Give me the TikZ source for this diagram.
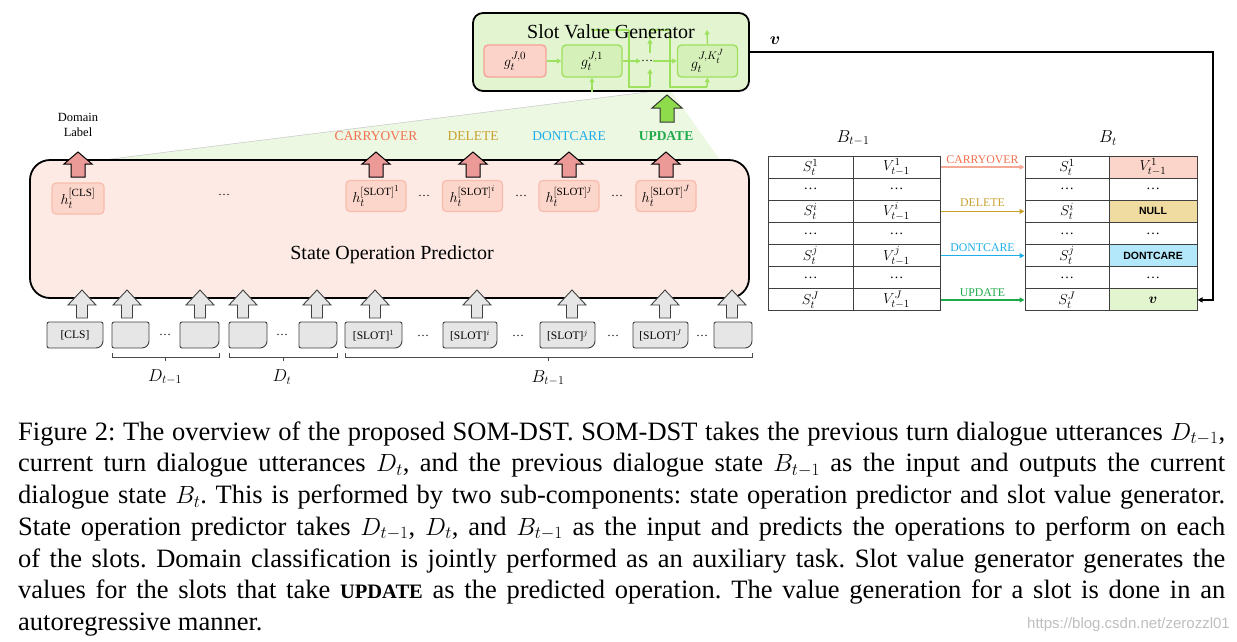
\documentclass[tikz,border=0pt]{standalone}
\usepackage{amsmath}
\usepackage{fontspec}
\setmainfont{Liberation Serif}
\newfontfamily\sansfam{Liberation Sans}
\usetikzlibrary{arrows.meta}
\DeclareMathSizes{13}{13}{10}{8}
\DeclareMathSizes{14}{14}{10.5}{8.5}
\DeclareMathSizes{15}{15}{11}{9}
\DeclareMathSizes{16}{16}{12}{9.5}
\definecolor{svgfill}{HTML}{E3F5D0}
\definecolor{gline}{HTML}{9DE15E}
\definecolor{gcell}{HTML}{D5F0B8}
\definecolor{trapfill}{HTML}{EDF8E2}
\definecolor{sopfill}{HTML}{FDEAE5}
\definecolor{hfill}{HTML}{FCD6CB}
\definecolor{hdraw}{HTML}{F8BCAD}
\definecolor{g0fill}{HTML}{FBD3C8}
\definecolor{g0draw}{HTML}{F6A296}
\definecolor{redarr}{HTML}{EC9A98}
\definecolor{grayin}{HTML}{E6E6E6}
\definecolor{greenarr}{HTML}{8EDB4C}
\definecolor{carry}{HTML}{F2704F}
\definecolor{carryarr}{HTML}{F5A995}
\definecolor{delete}{HTML}{C8A02F}
\definecolor{dontc}{HTML}{1DAEEA}
\definecolor{upd}{HTML}{1EAA4B}
\definecolor{nullfill}{HTML}{F0DCA0}
\definecolor{dontfill}{HTML}{B2E8FA}
\definecolor{vfill}{HTML}{E2F5CF}
\definecolor{cfill}{HTML}{FCD5CA}
\newcommand\blockup[7]{% style, x, tip, headbase, bottom, halfhead, halfshaft
  \draw[#1] (#2,#3) -- ({#2+#6},#4) -- ({#2+#7},#4) -- ({#2+#7},#5) -- ({#2-#7},#5) -- ({#2-#7},#4) -- ({#2-#6},#4) -- cycle;}
\newcommand\inbox[4]{% name, x1, x2, text
  \draw[inboxsty] (#2,348) [rounded corners=2pt] -- (#2,322) -- (#3,322) [rounded corners=7pt] -- (#3,348) [rounded corners=2pt] -- cycle;
  \node[intext] (#1) at ({(#2+#3)/2},335.5) {#4};}
\newcommand\brak[4]{% name, x1, x2, y
  \draw[brsty] (#2,{#4-4}) -- (#2,#4) -- (#3,#4) -- (#3,{#4-4});
  \coordinate (#1) at ({(#2+#3)/2},#4);
  \draw[brsty] (#1) -- ++(0,4);}
\begin{document}
\begin{tikzpicture}[x=1pt,y=-1pt,
  every node/.style={inner sep=0pt},
  svgbox/.style={draw=black, line width=1.8pt, fill=svgfill, rounded corners=10pt, minimum width=276pt, minimum height=78pt},
  gcellsty/.style={draw=gline, line width=1.4pt, fill=gcell, rounded corners=4pt, minimum width=60pt, minimum height=32pt, font=\fontsize{15}{17}\selectfont},
  g0sty/.style={draw=g0draw, line width=1.4pt, fill=g0fill, rounded corners=4pt, minimum width=62pt, minimum height=32pt, font=\fontsize{15}{17}\selectfont},
  glin/.style={draw=gline, line width=1.5pt},
  garr/.style={glin, -{Triangle[length=4.5pt,width=5pt]}},
  sopbox/.style={draw=black, line width=1.8pt, fill=sopfill, rounded corners=20pt, minimum width=719pt, minimum height=138pt},
  hsty/.style={draw=hdraw, line width=1.2pt, fill=hfill, rounded corners=4pt, minimum width=60pt, minimum height=31pt, font=\fontsize{15}{17}\selectfont},
  redsty/.style={draw=black, line width=1pt, fill=redarr},
  graysty/.style={draw=black!75, line width=0.9pt, fill=grayin},
  greensty/.style={draw=black!80, line width=1pt, fill=greenarr},
  inboxsty/.style={draw=black!75, line width=0.9pt, fill=grayin},
  intext/.style={font=\fontsize{11.5}{13}\selectfont},
  brsty/.style={draw=black!70, line width=0.8pt},
  oplab/.style={font=\fontsize{13.5}{15}\selectfont},
  dots/.style={font=\fontsize{12}{14}\selectfont},
  cell/.style={draw=black!75, line width=1pt, minimum height=22.14pt, font=\fontsize{14}{16}\selectfont},
  arrsm/.style={line width=1.6pt, -{Triangle[length=5pt,width=5pt]}},
  tlab/.style={font=\fontsize{11.8}{13}\selectfont},
  capf/.style={anchor=base west, font=\fontsize{26.5}{31.75}\selectfont\frenchspacing}]
\fill[white] (0,0) rectangle (1237,641);
\useasboundingbox (0,0) rectangle (1237,641);

% green projection
\fill[trapfill] (103,160) -- (655,91) -- (671,91) -- (720,160) -- cycle;
\draw[gray!45, line width=0.5pt] (103,160) -- (655,91);

% Slot Value Generator
\node[svgbox] (svg) at (611,52) {};
\node[g0sty] (g0) at (515,61) {$g_t^{J,0}$};
\node[gcellsty] (g1) at (592,61) {$g_t^{J,1}$};
\node[dots] (gd) at (647,61) {\dots};
\node[gcellsty] (gK) at (707.5,61) {$g_t^{J,K_t^J}$};
\draw[garr] (g0.east) -- (g1.west);
\draw[garr] (g1.east) -- (gd.west);
\draw[garr] (gd.east) -- (gK.west);
\draw[garr] (g1.south |- svg.south) -- (g1.south);
\draw[glin] (629,30) -- (629,87) -- (650,87);
\draw[garr] (650,87) -- (650,69);
\draw[garr] (650,53) -- (650,39);
\draw[glin] (650,39) -- (650,30) -- (670,30) -- (670,87) -- (707,87);
\draw[garr] (707,87) -- (gK.south);
\draw[garr] (gK.north) -- (707,30);
\draw[glin] (591,30) -- (629,30);
\node[font=\fontsize{20}{24}\selectfont] (svgt) at (611,32) {Slot Value Generator};

% green arrow
\blockup{greensty}{667}{95}{108}{122}{15}{7}

% State operation predictor
\node[sopbox] (sop) at (389.5,229) {};
\node[font=\fontsize{20}{24}\selectfont] (sopt) at (392,255) {State Operation Predictor};
\node[hsty, minimum width=52pt] (hcls) at (78,198.5) {$h_t^{[\mathrm{CLS}]}$};
\node[dots] (hd0) at (224,195) {\dots};
\node[hsty] (h1) at (376,196) {$h_t^{[\mathrm{SLOT}]^1}$};
\node[dots] (hd1) at (424,196) {\dots};
\node[hsty] (hi) at (472.5,196) {$h_t^{[\mathrm{SLOT}]^i}$};
\node[dots] (hd2) at (521,196) {\dots};
\node[hsty] (hj) at (569,196) {$h_t^{[\mathrm{SLOT}]^j}$};
\node[dots] (hd3) at (617,196) {\dots};
\node[hsty] (hJ) at (666,196) {$h_t^{[\mathrm{SLOT}]^J}$};

% red output arrows
\foreach \x in {78,376,473,569,666} {\blockup{redsty}{\x}{152}{164}{177}{14}{7}}
\node[align=center, font=\fontsize{12.5}{15}\selectfont] (dl) at (78,125) {Domain\\Label};
\node[oplab, text=carry] (lc) at (376,136) {CARRYOVER};
\node[oplab, text=delete] (ld) at (473,136) {DELETE};
\node[oplab, text=dontc] (ldc) at (569,136) {DONTCARE};
\node[oplab, text=upd, font=\fontsize{13.5}{15}\selectfont\bfseries] (lu) at (666,136) {UPDATE};

% inputs
\inbox{icls}{47}{103}{[CLS]}
\inbox{ia1}{112}{149}{}
\node[dots] (ida) at (165,335) {\dots};
\inbox{ia2}{180}{219}{}
\inbox{ib1}{229}{267}{}
\node[dots] (idb) at (282,335) {\dots};
\inbox{ib2}{299}{337}{}
\inbox{is1}{345}{402}{[SLOT]$^1$}
\node[dots] (idc) at (423,336) {\dots};
\inbox{isi}{443}{497}{[SLOT]$^i$}
\node[dots] (idd) at (518,336) {\dots};
\inbox{isj}{540}{595}{[SLOT]$^j$}
\node[dots] (ide) at (613,336) {\dots};
\inbox{isJ}{633}{688}{[SLOT]$^J$}
\node[dots] (idf) at (702,336) {\dots};
\inbox{iend}{714}{752}{}
\foreach \x in {82,127,200,243,317,375,477,572,665,732} {\blockup{graysty}{\x}{290}{305}{318}{14}{5.5}}

% braces
\brak{bd1}{112}{219}{357}
\brak{bd2}{229}{337}{357}
\brak{bb}{345}{752}{357}
\node[font=\fontsize{16}{18}\selectfont] (ld1) at (165,377) {$D_{t-1}$};
\node[font=\fontsize{16}{18}\selectfont] (ld2) at (282,377) {$D_t$};
\node[font=\fontsize{16}{18}\selectfont] (lb) at (548,378) {$B_{t-1}$};

% tables
\node[font=\fontsize{16}{18}\selectfont] (tb1) at (853,138) {$B_{t-1}$};
\node[font=\fontsize{16}{18}\selectfont] (tb2) at (1108,138) {$B_t$};
\foreach \k/\s/\v in {1/{$S_t^1$}/{$V_{t-1}^1$},2/{\dots}/{\dots},3/{$S_t^i$}/{$V_{t-1}^i$},4/{\dots}/{\dots},5/{$S_t^j$}/{$V_{t-1}^j$},6/{\dots}/{\dots},7/{$S_t^J$}/{$V_{t-1}^J$}} {
  \node[cell, minimum width=85pt] (ls\k) at (810.5,{156+22.14*(\k-0.5)}) {\s};
  \node[cell, minimum width=87pt] (lv\k) at (896.5,{156+22.14*(\k-0.5)}) {\v};
  \node[cell, minimum width=84pt] (rs\k) at (1067,{156+22.14*(\k-0.5)}) {\s};
}
\node[cell, minimum width=88pt, fill=cfill] (rv1) at (1153,167.07) {$V_{t-1}^1$};
\node[cell, minimum width=88pt] (rv2) at (1153,189.21) {\dots};
\node[cell, minimum width=88pt, fill=nullfill, font=\fontsize{10.5}{12}\sansfam\bfseries] (rv3) at (1153,211.35) {NULL};
\node[cell, minimum width=88pt] (rv4) at (1153,233.49) {\dots};
\node[cell, minimum width=88pt, fill=dontfill, font=\fontsize{10.5}{12}\sansfam\bfseries] (rv5) at (1153,255.63) {DONTCARE};
\node[cell, minimum width=88pt] (rv6) at (1153,277.77) {\dots};
\node[cell, minimum width=88pt, fill=vfill] (rv7) at (1153,299.91) {$\boldsymbol{v}$};

\draw[arrsm, carryarr] (lv1.east) -- (rs1.west) node[midway, above=3pt, tlab, text=carry] {CARRYOVER};
\draw[arrsm, delete] (lv3.east) -- (rs3.west) node[midway, above=4pt, tlab, text=delete] {DELETE};
\draw[arrsm, dontc] (lv5.east) -- (rs5.west) node[midway, above=3pt, tlab, text=dontc] {DONTCARE};
\draw[arrsm, upd] (lv7.east) -- (rs7.west) node[midway, above=3pt, tlab, text=upd] {UPDATE};

% v feedback
\coordinate (vc) at (1213,52);
\draw[line width=1.3pt, -{Triangle[length=5pt,width=5pt]}] (svg.east) -- (vc) -- (vc |- rv7.east) -- (rv7.east);
\node[font=\fontsize{16}{18}\selectfont] (vlab) at (775,41) {$\boldsymbol{v}$};

% caption
\node[capf] (c1) at (18,440) {\makebox[1207pt][s]{Figure 2: The overview of the proposed SOM-DST. SOM-DST takes the previous turn dialogue utterances $D_{t-1}$,}};
\node[capf] (c2) at (18,471.75) {\makebox[1207pt][s]{current turn dialogue utterances $D_t$, and the previous dialogue state $B_{t-1}$ as the input and outputs the current}};
\node[capf] (c3) at (18,503.5) {\makebox[1207pt][s]{dialogue state $B_t$. This is performed by two sub-components: state operation predictor and slot value generator.}};
\node[capf] (c4) at (18,535.25) {\makebox[1207pt][s]{State operation predictor takes $D_{t-1}$, $D_t$, and $B_{t-1}$ as the input and predicts the operations to perform on each}};
\node[capf] (c5) at (18,567) {\makebox[1207pt][s]{of the slots. Domain classification is jointly performed as an auxiliary task. Slot value generator generates the}};
\node[capf] (c6) at (18,598.75) {\makebox[1207pt][s]{values for the slots that take {\fontsize{20.5}{24}\selectfont\bfseries UPDATE} as the predicted operation. The value generation for a slot is done in an}};
\node[capf] (c7) at (18,630.5) {autoregressive manner.};
\node[anchor=base east, font=\fontsize{15}{17}\sansfam, text=black!25] (wm) at (1230,628) {https://blog.csdn.net/zerozzl01};
\end{tikzpicture}
\end{document}
